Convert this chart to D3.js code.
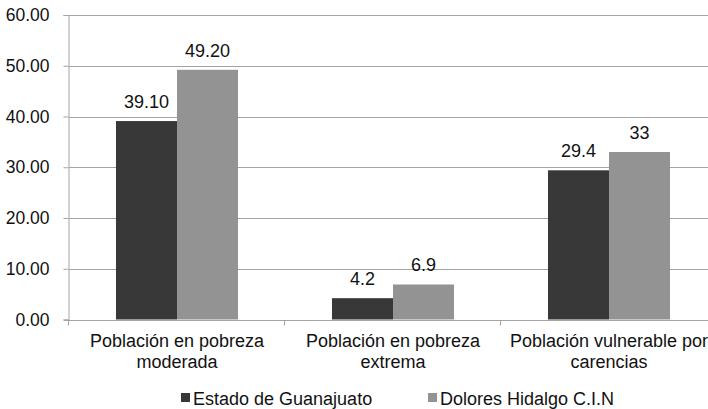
<!DOCTYPE html>
<html>
<head>
<meta charset="utf-8">
<script src="https://cdn.jsdelivr.net/npm/d3@7"></script>
<style>
  body { margin: 0; background: #fff; }
  svg { display: block; font-family: "Liberation Sans", Arial, sans-serif; }
</style>
</head>
<body>
<svg></svg>
<script>
// chart data
const categories = [
  ["Población en pobreza", "moderada"],
  ["Población en pobreza", "extrema"],
  ["Población vulnerable por", "carencias"]
];
const seriesNames = ["Estado de Guanajuato", "Dolores Hidalgo C.I.N"];
const guanajuato = [39.1, 4.2, 29.4];
const dolores = [49.2, 6.9, 33];
const guanajuatoLabels = ["39.10", "4.2", "29.4"];
const doloresLabels = ["49.20", "6.9", "33"];
const yTicks = [0, 10, 20, 30, 40, 50, 60];

const w = 708, h = 409;
// plot area (it runs past the right edge, as in the original)
const margin = { top: 15, left: 69, bottom: 89.5 };
const plotW = 648;
const plotH = h - margin.top - margin.bottom;

const colors = ["#383838", "#939393"];
const gridColor = "#a3a3a3";
const textColor = "#111";

const svg = d3.select("svg").attr("width", w).attr("height", h);

const y = d3.scaleLinear().domain([0, 60]).range([margin.top + plotH, margin.top]);

const x0 = d3.scaleBand()
  .domain(d3.range(categories.length))
  .range([margin.left, margin.left + plotW])
  .paddingInner(0.435)
  .paddingOuter(0.2175);

const x1 = d3.scaleBand()
  .domain([0, 1])
  .range([0, x0.bandwidth()]);

// gridlines
svg.append("g")
  .selectAll("line")
  .data(yTicks.filter(d => d > 0))
  .enter()
  .append("line")
  .attr("x1", margin.left)
  .attr("x2", margin.left + plotW)
  .attr("y1", d => Math.round(y(d)) + 0.5)
  .attr("y2", d => Math.round(y(d)) + 0.5)
  .attr("stroke", gridColor)
  .attr("stroke-width", 1);

// y axis
const yAxis = svg.append("g")
  .attr("transform", `translate(${margin.left - 0.5},0)`)
  .call(d3.axisLeft(y).tickValues(yTicks).tickFormat(d3.format(".2f")).tickSize(5).tickPadding(14));
yAxis.select(".domain").attr("stroke", gridColor);
yAxis.selectAll(".tick line").attr("stroke", gridColor);
yAxis.selectAll(".tick text")
  .attr("fill", textColor)
  .style("font-size", "17.5px")
  .style("font-family", "'Liberation Sans', Arial, sans-serif");

// bars
const series = [guanajuato, dolores];
const seriesLabels = [guanajuatoLabels, doloresLabels];
const groups = svg.append("g")
  .selectAll("g")
  .data(categories)
  .enter()
  .append("g")
  .attr("transform", (d, i) => `translate(${x0(i)},0)`);

groups.selectAll("rect")
  .data((d, i) => series.map((s, k) => ({ k, v: s[i] })))
  .enter()
  .append("rect")
  .attr("x", d => x1(d.k))
  .attr("y", d => y(d.v))
  .attr("width", x1.bandwidth())
  .attr("height", d => y(0) - y(d.v))
  .attr("fill", d => colors[d.k]);

// value labels
groups.selectAll("text")
  .data((d, i) => series.map((s, k) => ({ k, v: s[i], t: seriesLabels[k][i] })))
  .enter()
  .append("text")
  .attr("x", d => x1(d.k) + x1.bandwidth() / 2)
  .attr("y", d => y(d.v) - 13)
  .attr("text-anchor", "middle")
  .attr("fill", textColor)
  .style("font-size", "18px")
  .text(d => d.t);

// x axis line and ticks
const xAxisY = Math.round(y(0)) + 0.5;
svg.append("line")
  .attr("x1", margin.left - 5)
  .attr("x2", margin.left + plotW)
  .attr("y1", xAxisY)
  .attr("y2", xAxisY)
  .attr("stroke", gridColor);

const step = x0.step();
svg.append("g")
  .selectAll("line")
  .data(d3.range(categories.length + 1))
  .enter()
  .append("line")
  .attr("x1", i => Math.round(margin.left + i * step) - 0.5)
  .attr("x2", i => Math.round(margin.left + i * step) - 0.5)
  .attr("y1", xAxisY)
  .attr("y2", xAxisY + 5)
  .attr("stroke", gridColor);

// category labels
const catText = svg.append("g")
  .selectAll("text")
  .data(categories)
  .enter()
  .append("text")
  .attr("x", (d, i) => x0(i) + x0.bandwidth() / 2)
  .attr("y", 347)
  .attr("text-anchor", "middle")
  .attr("fill", textColor)
  .style("font-size", "18px");
catText.selectAll("tspan")
  .data(d => d)
  .enter()
  .append("tspan")
  .attr("x", function () { return this.parentNode.getAttribute("x"); })
  .attr("dy", (d, j) => j === 0 ? 0 : 21)
  .text(d => d);

// legend
const legendX = [181, 428];
const legend = svg.append("g")
  .selectAll("g")
  .data(seriesNames)
  .enter()
  .append("g")
  .attr("transform", (d, i) => `translate(${legendX[i]},393)`);
legend.append("rect")
  .attr("width", 9)
  .attr("height", 9)
  .attr("fill", (d, i) => colors[i]);
legend.append("text")
  .attr("x", 12)
  .attr("y", 12)
  .attr("fill", textColor)
  .style("font-size", "18px")
  .text(d => d);
</script>
</body>
</html>
